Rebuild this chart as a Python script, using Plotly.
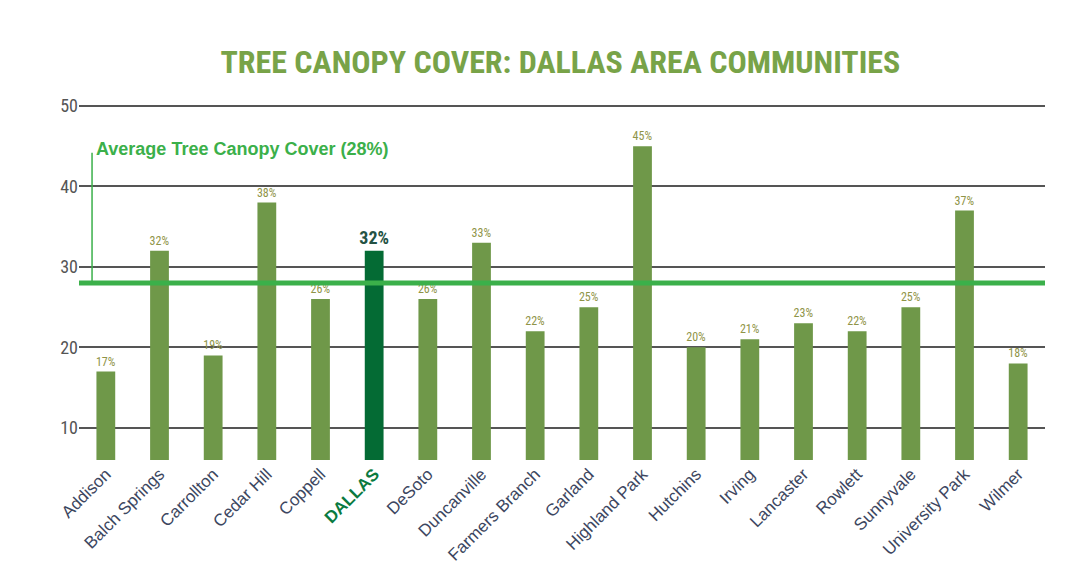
import plotly.graph_objects as go

categories = ["Addison", "Balch Springs", "Carrollton", "Cedar Hill", "Coppell", "DALLAS",
              "DeSoto", "Duncanville", "Farmers Branch", "Garland", "Highland Park", "Hutchins",
              "Irving", "Lancaster", "Rowlett", "Sunnyvale", "University Park", "Wilmer"]
canopy = [17, 32, 19, 38, 26, 32, 26, 33, 22, 25, 45, 20, 21, 23, 22, 25, 37, 18]
average = 28
y_ticks = [10, 20, 30, 40, 50]
y_min, y_max = 6, 50.25

NARROW = "Roboto Condensed, Liberation Sans Narrow, Arial Narrow, sans-serif"
SANS = "Liberation Sans, Arial, Helvetica, sans-serif"
bar_colors = ["#046b34" if c == "DALLAS" else "#6f9849" for c in categories]
text_colors = ["#245244" if c == "DALLAS" else "#8f9447" for c in categories]
text_sizes = [18 if c == "DALLAS" else 12 for c in categories]
labels = [f"<b>{v}%</b>" if c == "DALLAS" else f"{v}%" for c, v in zip(categories, canopy)]
tick_text = ["<span style='color:#0a7a40'><b>DALLAS</b></span>" if c == "DALLAS" else c for c in categories]

fig = go.Figure()
fig.add_trace(go.Bar(
    x=categories, y=[v - y_min for v in canopy], base=y_min,
    marker=dict(color=bar_colors, line=dict(width=0)),
    text=labels, textposition="outside", constraintext="none",
    textfont=dict(color=text_colors, size=text_sizes, family=NARROW),
    outsidetextfont=dict(color=text_colors, size=text_sizes, family=NARROW),
    cliponaxis=False, hoverinfo="skip",
))

fig.add_shape(type="line", xref="paper", x0=0, x1=1, yref="y", y0=average, y1=average,
              line=dict(color="#3bb04a", width=5))
fig.add_shape(type="line", xref="paper", x0=0.0135, x1=0.0135, yref="y", y0=average, y1=44.2,
              line=dict(color="#3bb04a", width=1.5))
fig.add_annotation(xref="paper", x=0.0155, yref="y", y=44.6, xanchor="left", yanchor="middle",
                   text=f"<b>Average Tree Canopy Cover ({average}%)</b>", showarrow=False,
                   font=dict(color="#3bb04a", size=18, family=SANS))

fig.update_layout(
    width=1081, height=576,
    margin=dict(l=71, r=44, t=96, b=124),
    paper_bgcolor="white", plot_bgcolor="white",
    title=dict(text="<b>TREE CANOPY COVER: DALLAS AREA COMMUNITIES</b>", x=0.511, xanchor="center",
               y=0.906, yanchor="middle",
               font=dict(color="#78a348", size=32, family=NARROW)),
    bargap=0.65, showlegend=False,
    xaxis=dict(tickmode="array", tickvals=categories, ticktext=tick_text, tickangle=-45,
               tickfont=dict(color="#3c4660", size=17, family=SANS), showgrid=False,
               showline=False, ticks=""),
    yaxis=dict(range=[y_min, y_max], tickvals=y_ticks, showgrid=True, gridcolor="#555555", gridwidth=1.5,
               zeroline=False, showline=False, ticks="",
               tickfont=dict(color="#555555", size=18, family=NARROW)),
)
fig.write_html("out.html")
